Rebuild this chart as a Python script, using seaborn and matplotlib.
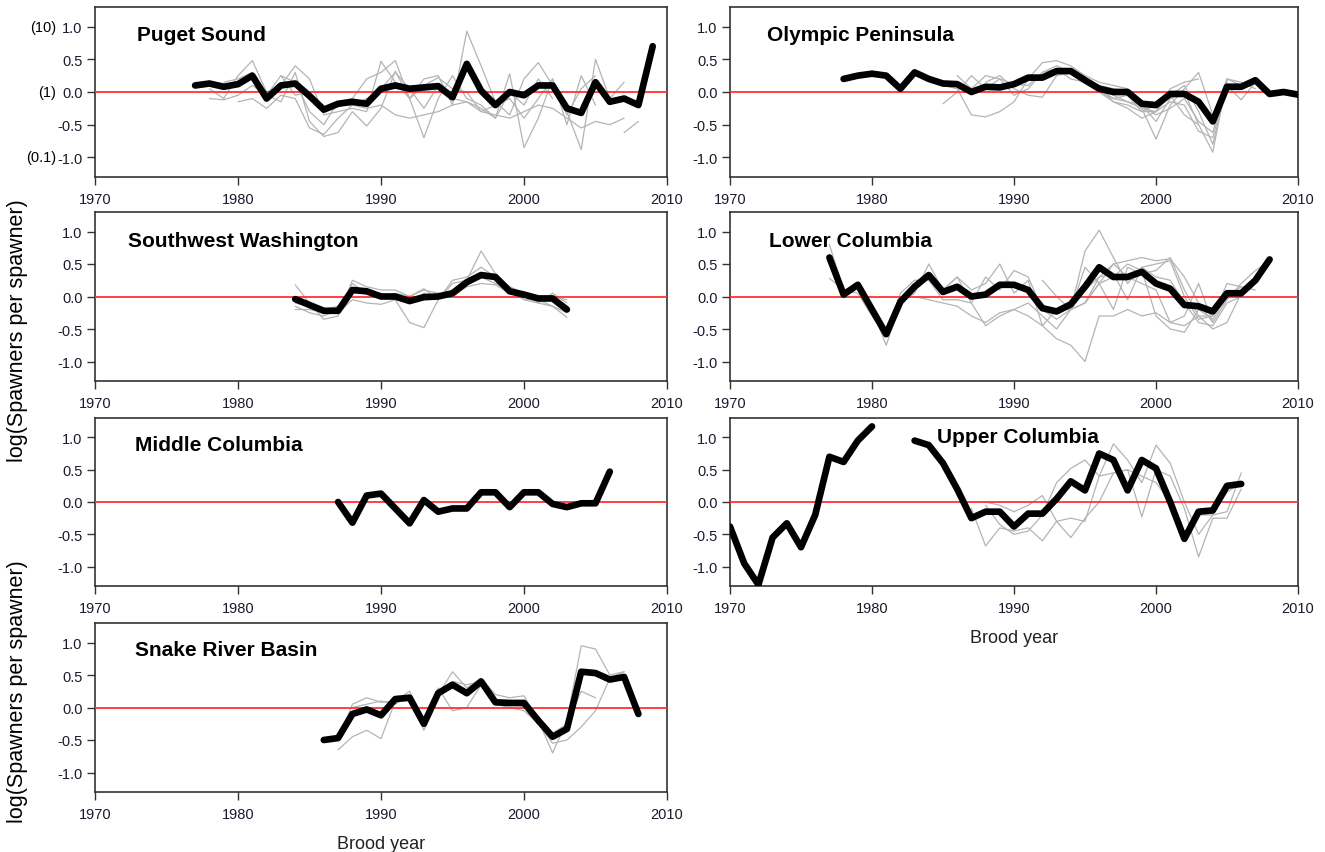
import numpy as np
import pandas as pd
import matplotlib
matplotlib.use("Agg")
import matplotlib.pyplot as plt
import seaborn as sns

sns.set_theme(style="white")
plt.rcParams['font.family'] = ['Liberation Sans', 'DejaVu Sans']

# ---------------- data ----------------
panel_names = ["Puget Sound", "Olympic Peninsula", "Southwest Washington",
               "Lower Columbia", "Middle Columbia", "Upper Columbia",
               "Snake River Basin"]

# black (aggregate) lines: start year + values
ps_start = 1977
ps_black = [0.10, 0.13, 0.08, 0.12, 0.25, -0.10, 0.10, 0.13, -0.06, -0.27, -0.18, -0.15,
            -0.18, 0.05, 0.10, 0.05, 0.07, 0.09, -0.08, 0.43, 0.02, -0.20, 0.00, -0.05,
            0.10, 0.10, -0.25, -0.32, 0.15, -0.15, -0.10, -0.20, 0.70]
op_start = 1978
op_black = [0.20, 0.25, 0.28, 0.25, 0.05, 0.30, 0.20, 0.13, 0.12, 0.00, 0.08, 0.07,
            0.12, 0.22, 0.22, 0.32, 0.32, 0.18, 0.05, 0.00, 0.00, -0.18, -0.20, -0.03,
            -0.03, -0.15, -0.45, 0.08, 0.08, 0.18, -0.03, 0.00, -0.04]
sw_start = 1984
sw_black = [-0.04, -0.13, -0.22, -0.22, 0.10, 0.08, 0.00, 0.00, -0.07, -0.01, 0.00,
            0.05, 0.22, 0.33, 0.30, 0.08, 0.03, -0.03, -0.03, -0.20]
lc_start = 1977
lc_black = [0.60, 0.03, 0.18, -0.20, -0.58, -0.08, 0.15, 0.33, 0.07, 0.15, 0.00, 0.03,
            0.18, 0.18, 0.10, -0.18, -0.23, -0.12, 0.15, 0.45, 0.30, 0.30, 0.38, 0.20,
            0.12, -0.13, -0.15, -0.23, 0.05, 0.05, 0.25, 0.57]
mc_start = 1987
mc_black = [0.00, -0.32, 0.10, 0.13, -0.10, -0.33, 0.03, -0.15, -0.10, -0.10, 0.15,
            0.15, -0.08, 0.15, 0.15, -0.03, -0.08, -0.02, -0.02, 0.47]
uc_start = 1970
uc_black = [-0.38, -0.95, -1.28, -0.55, -0.33, -0.70, -0.20, 0.70, 0.62, 0.95, 1.17,
            np.nan, np.nan,
            0.95, 0.88, 0.60, 0.20, -0.25, -0.15, -0.15, -0.38, -0.18, -0.18, 0.05,
            0.32, 0.18, 0.75, 0.65, 0.18, 0.65, 0.52, 0.00, -0.57, -0.15, -0.13, 0.25, 0.28]
sr_start = 1986
sr_black = [-0.50, -0.47, -0.10, -0.03, -0.12, 0.13, 0.15, -0.25, 0.22, 0.35, 0.22,
            0.40, 0.08, 0.07, 0.07, -0.20, -0.45, -0.33, 0.55, 0.53, 0.43, 0.47, -0.10]

# gray (individual population) lines: (start year, values)
ps_gray = [
    (1978, [0.05, -0.10, 0.25, 0.48, 0.00, 0.10, 0.40, 0.20, -0.35, -0.30, -0.25, -0.30,
            0.47, 0.15, -0.10, 0.20, 0.25, -0.20, 0.93, 0.40, -0.15, -0.35, 0.20, 0.45,
            0.10, -0.30, -0.88, 0.50, -0.10, 0.15]),
    (1978, [-0.10, -0.12, -0.05, 0.10, -0.05, -0.15, 0.30, -0.45, -0.68, -0.62, -0.30,
            -0.52, -0.25, 0.32, -0.10, -0.70, -0.10, 0.25, -0.10, -0.20, -0.40, 0.28,
            -0.85, -0.40, 0.20, -0.50, 0.25, -0.20]),
    (1980, [-0.15, -0.10, -0.25, -0.05, -0.10, -0.55, -0.65, -0.40, -0.20, -0.25, -0.20,
            -0.35, -0.40, -0.35, -0.30, -0.20, -0.15, -0.30, -0.35, -0.40, -0.30, -0.20,
            -0.25, -0.40, -0.55, -0.45, -0.50, -0.40]),
    (2007, [-0.62, -0.45]),
    (1979, [0.15, 0.20, 0.30, -0.05, 0.25, -0.05, 0.00, -0.30, -0.20, -0.20, -0.10, 0.05,
            0.30, 0.05, -0.25, 0.10, -0.10, -0.15, -0.25, -0.40, 0.00, -0.20, 0.20, -0.10]),
    (1983, [0.25, 0.15, -0.30, -0.50, -0.15, -0.10, 0.20, 0.30, 0.48, -0.10, 0.10, 0.22,
            0.05, 0.00, -0.30, -0.20, -0.10, -0.40, -0.10, 0.20, -0.35, 0.05, 0.25]),
]
op_gray = [
    (1985, [-0.18, 0.00, 0.25, 0.05, 0.20, 0.12, 0.10, 0.30, 0.40, 0.30, 0.22, 0.10, 0.05,
            0.00, -0.25, -0.72, -0.20, 0.05, 0.30, -0.35, 0.20, 0.10]),
    (1985, [0.10, 0.05, -0.35, -0.38, -0.30, -0.15, 0.20, 0.45, 0.48, 0.40, 0.25, 0.15,
            0.10, 0.05, -0.20, -0.45, -0.10, 0.00, -0.50, -0.92, 0.20, 0.15, 0.05]),
    (1986, [0.25, 0.05, 0.25, 0.20, -0.05, 0.05, 0.30, 0.35, 0.20, 0.15, 0.00, -0.10,
            -0.15, -0.25, -0.30, -0.05, 0.10, -0.30, -0.80, 0.10, -0.12, 0.15]),
    (1988, [0.15, 0.25, 0.05, -0.05, -0.08, 0.25, 0.30, 0.20, 0.05, -0.15, -0.25, -0.40,
            -0.30, 0.05, 0.15, 0.20]),
    (1995, [0.20, 0.05, -0.10, -0.05, -0.30, -0.30, -0.15, -0.20, -0.60, -0.70, 0.15]),
    (1996, [0.10, -0.05, -0.15, -0.20, -0.35, -0.25, -0.10, -0.45, -0.62, 0.18]),
    (1996, [0.00, -0.15, -0.20, -0.30, -0.20, -0.05, -0.35, -0.50]),
]
sw_gray = [
    (1984, [0.18, -0.10, -0.35, -0.30, 0.25, 0.15, 0.10, 0.10, 0.00, 0.12, -0.05, 0.20,
            0.25, 0.70, 0.35, 0.15, 0.05, -0.10, 0.05, -0.10]),
    (1984, [-0.15, -0.25, -0.30, -0.20, 0.20, 0.05, 0.05, -0.05, -0.40, -0.48, -0.05,
            0.25, 0.30, 0.45, 0.30, 0.10, -0.05, -0.10, -0.15, -0.25]),
    (1984, [-0.20, -0.20, -0.25, -0.25, -0.05, -0.10, -0.12, -0.05, -0.10, 0.05, 0.00,
            0.00, 0.15, 0.20, 0.18, 0.05, 0.00, -0.05, -0.15, -0.32]),
    (1984, [-0.10, -0.15, -0.20, -0.15, 0.05, 0.10, 0.00, 0.05, 0.00, 0.10, 0.05, 0.05,
            0.20, 0.30, 0.20, 0.10, -0.05, -0.05, 0.00, -0.05]),
]
lc_gray = [
    (1977, [0.80, 0.10, 0.15, -0.20, -0.75, -0.10, 0.05, 0.50, 0.10, 0.30, 0.10, 0.20,
            0.50, 0.05, 0.25, -0.45, -0.20, -0.20, 0.70, 1.02, 0.60, 0.20, 0.45, 0.50,
            0.55, 0.00, -0.35, -0.30, 0.20, 0.15, 0.10]),
    (1977, [0.28, 0.10, 0.05, -0.30, -0.60, 0.05, 0.25, 0.25, -0.05, -0.05, -0.10, 0.30,
            0.10, 0.40, 0.30, -0.20, -0.35, -0.20, 0.10, 0.30, 0.50, 0.55, 0.60, 0.55,
            0.58, 0.30, -0.10, -0.40, -0.05, 0.20, 0.40, 0.55]),
    (1983, [0.00, -0.05, -0.10, -0.15, -0.30, -0.40, -0.25, -0.20, -0.30, -0.45, -0.65,
            -0.75, -1.00, -0.30, -0.30, -0.20, -0.30, -0.25, -0.40, -0.45, -0.30, -0.30]),
    (1985, [0.10, 0.30, -0.10, -0.45, -0.30, -0.20, -0.10, -0.30, -0.50, -0.20, 0.45,
            0.20, 0.30, 0.50, 0.40, -0.30, -0.50, -0.55, -0.20, -0.35, 0.00, 0.15]),
    (1992, [0.25, 0.00, -0.20, -0.10, 0.20, -0.20, 0.45, 0.35, 0.40, 0.60, 0.10, -0.30,
            -0.50, -0.40, 0.05, 0.20]),
    (1994, [-0.20, -0.10, 0.30, 0.35, -0.05, 0.45, 0.30, 0.25, -0.10, -0.40, -0.45,
            -0.10, 0.00]),
    (1995, [-0.10, 0.20, 0.50, 0.30, 0.20, 0.10, -0.40, -0.30, 0.20, -0.40]),
]
mc_gray = []
uc_gray = [
    (1987, [-0.10, -0.68, -0.40, -0.45, -0.40, -0.60, -0.30, -0.25, -0.30, 0.40, 0.45,
            0.50, 0.40, 0.30, 0.00, -0.50, -0.20, -0.20, 0.15, 0.30]),
    (1988, [0.00, -0.05, -0.15, -0.05, 0.10, -0.30, -0.55, -0.25, 0.00, 0.45, 0.50,
            -0.23, 0.50, 0.40, -0.10, -0.85, -0.25, -0.25, 0.20]),
    (1988, [-0.05, -0.35, -0.50, -0.45, -0.20, 0.30, 0.52, 0.65, 0.40, 0.90, 0.65, 0.30,
            0.88, 0.60, 0.00, -0.50, -0.20, -0.15, 0.45]),
]
sr_gray = [
    (1987, [-0.65, -0.45, -0.35, -0.48, 0.10, 0.15, -0.35, 0.20, 0.55, 0.30, 0.45, 0.20,
            0.15, 0.18, -0.20, -0.70, -0.20, 0.95, 0.90, 0.50, 0.55]),
    (1987, [-0.50, 0.05, 0.15, 0.08, 0.10, 0.25, -0.20, 0.30, -0.05, 0.00, 0.35, 0.05,
            0.00, -0.05, -0.25, -0.55, -0.50, -0.30, -0.05, 0.45, 0.55]),
    (1988, [0.00, 0.05, 0.10, 0.05, 0.20, -0.20, 0.25, 0.40, 0.35, 0.40, 0.10, 0.05,
            0.02, -0.15, -0.40, -0.25, 0.25, 0.15]),
]

x_ticks = [1970, 1980, 1990, 2000, 2010]
y_ticks = [-1.0, -0.5, 0.0, 0.5, 1.0]
y_tick_labels = ["-1.0", "-0.5", "0.0", "0.5", "1.0"]
ratio_labels = ["(10)", "(1)", "(0.1)"]
ratio_levels = [1.0, 0.0, -1.0]

panels = [
    (panel_names[0], ps_start, ps_black, ps_gray),
    (panel_names[1], op_start, op_black, op_gray),
    (panel_names[2], sw_start, sw_black, sw_gray),
    (panel_names[3], lc_start, lc_black, lc_gray),
    (panel_names[4], mc_start, mc_black, mc_gray),
    (panel_names[5], uc_start, uc_black, uc_gray),
    (panel_names[6], sr_start, sr_black, sr_gray),
]


def gray_frame(gray):
    rows = []
    for k, (st, vals) in enumerate(gray):
        for i, v in enumerate(vals):
            rows.append({"year": st + i, "val": v, "pop": k})
    return pd.DataFrame(rows, columns=["year", "val", "pop"])


def black_frame(st, vals):
    rows = []
    seg = 0
    for i, v in enumerate(vals):
        if np.isnan(v):
            seg += 1
            continue
        rows.append({"year": st + i, "val": v, "seg": seg})
    return pd.DataFrame(rows)


# ---------------- layout ----------------
W, H = 1325, 853
fig = plt.figure(figsize=(W / 100, H / 100), dpi=100)

col_x = [(95, 572), (730, 568)]
row_y = [(8, 178), (213, 382), (419, 587), (624, 793)]
title_pos = [(0.073, 0.84), (0.065, 0.84), (0.058, 0.834), (0.069, 0.834),
             (0.070, 0.84), (0.364, 0.887), (0.070, 0.846)]

axes = []
for idx, (name, st, black, gray) in enumerate(panels):
    r, c = divmod(idx, 2)
    x0, w = col_x[c]
    top, bot = row_y[r]
    ax = fig.add_axes([x0 / W, 1 - bot / H, w / W, (bot - top) / H])
    axes.append(ax)

    if gray:
        gdf = gray_frame(gray)
        sns.lineplot(data=gdf, x="year", y="val", units="pop", estimator=None,
                     color="#b4b4b4", lw=0.9, ax=ax, legend=False)
    ax.axhline(0, color="#ff3333", lw=1.3, zorder=3)
    bdf = black_frame(st, black)
    sns.lineplot(data=bdf, x="year", y="val", units="seg", estimator=None,
                 color="black", lw=4.8, ax=ax, legend=False, zorder=4,
                 solid_capstyle="round", solid_joinstyle="round")

    ax.set_xlim(1970, 2010)
    ax.set_ylim(-1.3, 1.3)
    ax.set_xticks(x_ticks)
    ax.set_xticklabels([str(t) for t in x_ticks])
    ax.set_yticks(y_ticks)
    ax.set_yticklabels(y_tick_labels)
    ax.tick_params(axis="both", direction="out", length=6, width=1.0,
                   colors="#333333", labelcolor="#1a1a2e", labelsize=10.5,
                   bottom=True, left=True)
    ax.tick_params(axis="x", pad=5)
    ax.tick_params(axis="y", pad=3)
    for sp in ax.spines.values():
        sp.set_color("#333333")
        sp.set_linewidth(1.2)
        sp.set_visible(True)
    ax.set_xlabel("")
    ax.set_ylabel("")
    ax.grid(False)
    tx, ty = title_pos[idx]
    ax.text(tx, ty, name, transform=ax.transAxes, fontsize=15, fontweight="bold",
            ha="left", va="center", color="black")

# ratio labels on first panel
for lab, lev in zip(ratio_labels, ratio_levels):
    axes[0].text(-0.068, lev, lab, transform=axes[0].get_yaxis_transform(),
                 ha="right", va="center", fontsize=10.5, color="black")

axes[5].set_xlabel("Brood year", fontsize=13, labelpad=10, color="#222222")
axes[6].set_xlabel("Brood year", fontsize=13, labelpad=10, color="#222222")

fig.text(18 / W, 1 - 331 / H, "log(Spawners per spawner)", rotation=90,
         ha="center", va="center", fontsize=15.5, color="black")
fig.text(18 / W, 1 - 692 / H, "log(Spawners per spawner)", rotation=90,
         ha="center", va="center", fontsize=15.5, color="black")

fig.savefig("out.png", dpi=100, facecolor="white")
